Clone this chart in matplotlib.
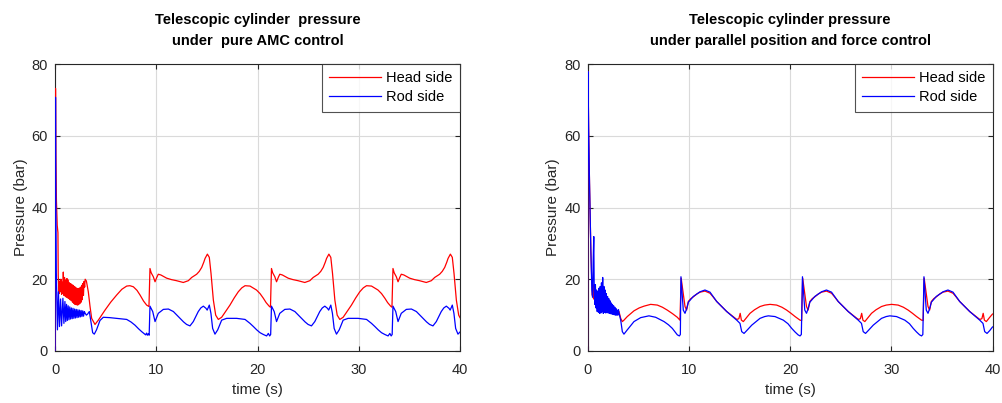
import matplotlib
matplotlib.use("Agg")
import matplotlib.pyplot as plt

plt.rcParams['font.family'] = ['Liberation Sans', 'DejaVu Sans']

# ---------------- Pure AMC control ----------------
amc_head_t = [
    0.00, 0.05, 0.09, 0.14, 0.22, 0.29, 0.32,
    0.35, 0.41, 0.47, 0.53, 0.59, 0.65, 0.71, 0.77, 0.82, 0.88, 0.94, 1.00,
    1.06, 1.12, 1.18, 1.24, 1.31, 1.37, 1.43, 1.49, 1.55, 1.61, 1.67, 1.73,
    1.79, 1.85, 1.91, 1.97, 2.03, 2.09, 2.15, 2.21, 2.27, 2.33, 2.39, 2.45,
    2.51, 2.57, 2.63, 2.69, 2.75, 2.81, 2.87, 2.93, 2.98,
    3.10, 3.29, 3.46, 3.62, 3.95, 4.28, 4.94, 5.50, 6.09, 6.60, 7.08, 7.40,
    7.74, 8.10, 8.40, 8.75, 9.05, 9.28,
    9.38, 9.50, 9.71, 9.88, 10.05, 10.20, 10.45, 11.03, 11.50, 12.00, 12.67,
    13.17, 13.50, 13.99, 14.25, 14.49, 14.70, 14.82, 15.05, 15.24, 15.41,
    15.64, 15.87, 16.13, 16.46, 16.85, 17.28, 17.70, 18.10, 18.45, 18.77,
    19.26, 19.90, 20.25, 20.58, 20.85, 21.15, 21.28,
    21.38, 21.50, 21.71, 21.88, 22.05, 22.20, 22.45, 23.03, 23.50, 24.00, 24.67,
    25.17, 25.50, 25.99, 26.25, 26.49, 26.70, 26.82, 27.05, 27.24, 27.41,
    27.64, 27.87, 28.13, 28.46, 28.85, 29.28, 29.70, 30.10, 30.45, 30.77,
    31.26, 31.90, 32.25, 32.58, 32.85, 33.15, 33.28,
    33.38, 33.50, 33.71, 33.88, 34.05, 34.20, 34.45, 35.03, 35.50, 36.00, 36.67,
    37.17, 37.50, 37.99, 38.25, 38.49, 38.70, 38.82, 39.05, 39.24, 39.41,
    39.64, 39.87, 40.00,
]
amc_head_p = [
    0.0, 73.2, 55.0, 42.0, 35.0, 33.0, 21.0,
    19.0, 16.0, 19.5, 16.5, 20.0, 15.8, 19.2, 16.0, 22.0, 15.5, 20.5, 15.3,
    19.8, 15.0, 20.2, 14.8, 19.8, 14.6, 19.0, 14.3, 18.8, 14.0, 18.5, 13.6,
    18.3, 13.3, 18.0, 13.0, 17.8, 12.9, 17.5, 12.8, 17.3, 12.9, 17.5, 13.2,
    17.8, 13.6, 18.3, 14.3, 18.8, 15.5, 19.4, 17.8, 20.0,
    19.5, 16.5, 12.4, 9.1, 7.4, 8.6, 11.4, 13.6, 15.6, 17.2, 18.1, 18.2,
    17.9, 16.9, 15.6, 13.9, 12.8, 12.4,
    23.0, 21.8, 20.7, 19.3, 20.5, 21.4, 21.2, 20.3, 19.9, 19.6, 19.1,
    19.6, 20.5, 21.4, 22.2, 23.3, 24.8, 25.8, 27.0, 26.1, 21.6,
    14.2, 10.0, 8.8, 9.4, 11.0, 12.8, 14.8, 16.5, 17.6, 18.2,
    18.1, 17.0, 16.0, 14.7, 13.5, 12.5, 12.2,
    23.0, 21.8, 20.7, 19.3, 20.5, 21.4, 21.2, 20.3, 19.9, 19.6, 19.1,
    19.6, 20.5, 21.4, 22.2, 23.3, 24.8, 25.8, 27.0, 26.1, 21.6,
    14.2, 10.0, 8.8, 9.4, 11.0, 12.8, 14.8, 16.5, 17.6, 18.2,
    18.1, 17.0, 16.0, 14.7, 13.5, 12.5, 12.2,
    23.0, 21.8, 20.7, 19.3, 20.5, 21.4, 21.2, 20.3, 19.9, 19.6, 19.1,
    19.6, 20.5, 21.4, 22.2, 23.3, 24.8, 25.8, 27.0, 26.1, 21.6,
    14.2, 10.0, 9.3,
]

amc_rod_t = [
    0.00, 0.05, 0.09, 0.13, 0.18, 0.24, 0.34, 0.44, 0.55, 0.65, 0.78, 0.88,
    0.98, 1.06, 1.14, 1.22, 1.30, 1.38, 1.46, 1.54, 1.62, 1.70, 1.78, 1.86,
    1.94, 2.02, 2.10, 2.18, 2.26, 2.34, 2.42, 2.50, 2.58, 2.66, 2.74, 2.82,
    2.90, 2.98,
    3.10, 3.22, 3.39, 3.52, 3.72, 3.88, 4.10, 4.44, 4.77, 5.40, 6.09, 7.08,
    7.50, 7.90, 8.25, 8.56, 8.95, 9.05, 9.12, 9.22, 9.30,
    9.38, 9.65, 9.88, 10.20, 10.70, 11.20, 11.69, 12.00, 12.35, 12.70, 13.00,
    13.33, 13.66, 13.90, 14.15, 14.40, 14.65, 14.91, 15.03, 15.24, 15.40,
    15.57, 15.80, 16.07, 16.46, 16.95, 17.94, 18.77, 19.26, 19.60, 19.92,
    20.25, 20.58, 20.90, 21.07, 21.20, 21.30,
    21.38, 21.65, 21.88, 22.20, 22.70, 23.20, 23.69, 24.00, 24.35, 24.70, 25.00,
    25.33, 25.66, 25.90, 26.15, 26.40, 26.65, 26.91, 27.03, 27.24, 27.40,
    27.57, 27.80, 28.07, 28.46, 28.95, 29.94, 30.77, 31.26, 31.60, 31.92,
    32.25, 32.58, 32.90, 33.07, 33.20, 33.30,
    33.38, 33.65, 33.88, 34.20, 34.70, 35.20, 35.69, 36.00, 36.35, 36.70, 37.00,
    37.33, 37.66, 37.90, 38.15, 38.40, 38.65, 38.91, 39.03, 39.24, 39.40,
    39.57, 39.80, 40.00,
]
amc_rod_p = [
    0.0, 70.7, 40.0, 22.0, 14.0, 5.9, 16.5, 6.8, 14.5, 7.0, 14.7, 7.7,
    13.8, 8.2, 13.0, 8.5, 12.6, 8.7, 12.3, 8.9, 12.0, 9.0, 11.9, 9.1,
    11.7, 9.2, 11.6, 9.3, 11.5, 9.4, 11.4, 9.5, 11.3, 9.6, 11.2, 9.7,
    11.0, 10.5,
    10.0, 10.3, 11.0, 8.6, 5.1, 4.7, 5.9, 8.5, 9.4, 9.3, 9.1, 8.8,
    8.1, 7.2, 6.2, 5.4, 4.5, 5.0, 4.4, 4.8, 4.4,
    12.5, 11.0, 8.2, 10.5, 11.6, 11.7, 11.0, 10.1, 9.1, 8.1, 7.4,
    7.0, 8.2, 9.6, 11.0, 12.0, 12.5, 11.9, 11.4, 12.8, 10.5,
    6.3, 4.7, 5.9, 8.6, 9.1, 9.1, 8.8, 7.7, 6.8, 5.9,
    5.1, 4.6, 4.2, 4.9, 4.2, 4.6,
    12.5, 11.0, 8.2, 10.5, 11.6, 11.7, 11.0, 10.1, 9.1, 8.1, 7.4,
    7.0, 8.2, 9.6, 11.0, 12.0, 12.5, 11.9, 11.4, 12.8, 10.5,
    6.3, 4.7, 5.9, 8.6, 9.1, 9.1, 8.8, 7.7, 6.8, 5.9,
    5.1, 4.6, 4.2, 4.9, 4.2, 4.6,
    12.5, 11.0, 8.2, 10.5, 11.6, 11.7, 11.0, 10.1, 9.1, 8.1, 7.4,
    7.0, 8.2, 9.6, 11.0, 12.0, 12.5, 11.9, 11.4, 12.8, 10.5,
    6.3, 4.7, 5.3,
]

# ---------------- Parallel position and force control ----------------
par_head_t = [
    0.00, 0.05, 0.11, 0.20, 0.33, 0.43,
    0.48, 0.54, 0.60, 0.66, 0.72, 0.78, 0.84, 0.90, 0.96, 1.02, 1.08, 1.14,
    1.20, 1.26, 1.32, 1.38, 1.44, 1.50, 1.56, 1.62, 1.68, 1.74, 1.80, 1.86,
    1.92, 1.98, 2.04, 2.10, 2.16, 2.22, 2.28, 2.34, 2.40, 2.46, 2.52, 2.58,
    2.64, 2.70, 2.76, 2.82, 2.88, 2.94, 3.00,
    3.11, 3.28, 3.44, 3.60, 3.93, 4.59, 5.10, 5.58, 6.24, 6.90, 7.40, 7.88,
    8.40, 8.87, 9.13,
    9.25, 9.45, 9.63, 9.79, 9.96, 10.20, 10.45, 10.80, 11.11, 11.60, 12.10,
    12.40, 12.76, 13.25, 13.75, 14.25, 14.74, 14.95, 15.08, 15.20, 15.39,
    15.70, 16.05, 16.50, 17.04, 17.50, 18.03, 18.68, 19.20, 19.67, 20.10,
    20.50, 20.99, 21.15,
    21.25, 21.45, 21.63, 21.79, 21.96, 22.20, 22.45, 22.80, 23.11, 23.60, 24.10,
    24.40, 24.76, 25.25, 25.75, 26.25, 26.74, 26.95, 27.08, 27.20, 27.39,
    27.70, 28.05, 28.50, 29.04, 29.50, 30.03, 30.68, 31.20, 31.67, 32.10,
    32.50, 32.99, 33.15,
    33.25, 33.45, 33.63, 33.79, 33.96, 34.20, 34.45, 34.80, 35.11, 35.60, 36.10,
    36.40, 36.76, 37.25, 37.75, 38.25, 38.74, 38.95, 39.08, 39.20, 39.39,
    39.70, 40.00,
]
par_head_p = [
    0.0, 77.9, 62.0, 46.8, 28.2, 19.0,
    15.5, 18.5, 14.5, 17.5, 14.0, 16.5, 13.5, 15.8, 13.0, 15.5, 12.8, 15.0,
    12.5, 14.6, 12.2, 14.2, 12.0, 13.8, 11.8, 13.5, 11.5, 13.2, 11.3, 12.9,
    11.1, 12.6, 11.0, 12.3, 10.8, 12.0, 10.7, 11.8, 10.6, 11.6, 10.5, 11.4,
    10.4, 11.2, 10.3, 11.0, 10.2, 10.8, 10.1,
    11.0, 9.1, 8.2, 8.6, 9.6, 11.2, 12.0, 12.5, 13.0, 12.8, 12.2, 11.4,
    10.4, 9.4, 8.6,
    20.3, 16.1, 12.4, 11.4, 13.8, 14.6, 15.1, 15.9, 16.4, 16.7, 16.1,
    15.1, 13.8, 12.4, 11.0, 9.9, 8.8, 9.0, 10.5, 8.6, 8.2,
    9.3, 10.5, 11.5, 12.4, 12.8, 13.0, 12.8, 12.2, 11.4, 10.5,
    9.6, 8.6, 8.5,
    20.3, 16.1, 12.4, 11.4, 13.8, 14.6, 15.1, 15.9, 16.4, 16.7, 16.1,
    15.1, 13.8, 12.4, 11.0, 9.9, 8.8, 9.0, 10.5, 8.6, 8.2,
    9.3, 10.5, 11.5, 12.4, 12.8, 13.0, 12.8, 12.2, 11.4, 10.5,
    9.6, 8.6, 8.5,
    20.3, 16.1, 12.4, 11.4, 13.8, 14.6, 15.1, 15.9, 16.4, 16.7, 16.1,
    15.1, 13.8, 12.4, 11.0, 9.9, 8.8, 9.0, 10.5, 8.6, 8.2,
    9.3, 10.3,
]

par_rod_t = [
    0.00, 0.05, 0.11, 0.20, 0.33, 0.43,
    0.50, 0.56, 0.62, 0.66, 0.72, 0.78, 0.84, 0.90, 0.96, 1.02, 1.08, 1.14,
    1.20, 1.26, 1.32, 1.38, 1.44, 1.50, 1.56, 1.62, 1.68, 1.74, 1.80, 1.86,
    1.92, 1.98, 2.04, 2.10, 2.16, 2.22, 2.28, 2.34, 2.40, 2.46, 2.52, 2.58,
    2.64, 2.70, 2.76, 2.82, 2.88, 2.94, 3.00, 3.06,
    3.11, 3.28, 3.44, 3.60, 3.93, 4.59, 5.25, 6.07, 6.73, 7.56, 8.00, 8.38,
    8.87, 9.07, 9.17,
    9.23, 9.30, 9.46, 9.63, 9.80, 9.96, 10.45, 11.11, 11.60, 12.10, 12.76,
    13.75, 14.74, 15.06, 15.23, 15.46, 15.73, 16.22, 17.04, 17.50, 17.86,
    18.52, 19.34, 19.80, 20.17, 20.50, 20.80, 20.99, 21.12,
    21.23, 21.30, 21.46, 21.63, 21.80, 21.96, 22.45, 23.11, 23.60, 24.10, 24.76,
    25.75, 26.74, 27.06, 27.23, 27.46, 27.73, 28.22, 29.04, 29.50, 29.86,
    30.52, 31.34, 31.80, 32.17, 32.50, 32.80, 32.99, 33.12,
    33.23, 33.30, 33.46, 33.63, 33.80, 33.96, 34.45, 35.11, 35.60, 36.10, 36.76,
    37.75, 38.74, 39.06, 39.23, 39.46, 39.73, 40.00,
]
par_rod_p = [
    0.0, 77.9, 62.0, 46.8, 28.2, 17.0,
    15.0, 25.0, 31.9, 18.0, 13.0, 18.5, 12.0, 17.0, 11.0, 16.5, 10.8, 17.5,
    10.5, 18.0, 10.6, 19.0, 11.0, 20.5, 10.5, 18.0, 10.8, 17.0, 10.6, 16.0,
    10.7, 15.2, 10.6, 14.6, 10.5, 14.0, 10.4, 13.4, 10.3, 13.0, 10.2, 12.6,
    10.1, 12.2, 10.0, 11.8, 10.0, 11.4, 10.0, 11.5,
    10.6, 8.6, 5.4, 4.7, 5.9, 8.2, 9.3, 9.8, 9.4, 8.2, 7.3, 6.3,
    4.5, 4.2, 4.6,
    20.7, 17.9, 11.4, 10.5, 11.9, 13.6, 15.2, 16.5, 17.0, 16.4, 13.8,
    11.0, 8.6, 7.7, 5.4, 4.9, 5.7, 7.2, 9.1, 9.6, 9.8,
    9.6, 8.6, 7.6, 6.3, 5.3, 4.5, 4.2, 4.6,
    20.7, 17.9, 11.4, 10.5, 11.9, 13.6, 15.2, 16.5, 17.0, 16.4, 13.8,
    11.0, 8.6, 7.7, 5.4, 4.9, 5.7, 7.2, 9.1, 9.6, 9.8,
    9.6, 8.6, 7.6, 6.3, 5.3, 4.5, 4.2, 4.6,
    20.7, 17.9, 11.4, 10.5, 11.9, 13.6, 15.2, 16.5, 17.0, 16.4, 13.8,
    11.0, 8.6, 7.7, 5.4, 4.9, 5.7, 6.7,
]

titles = [
    "Telescopic cylinder  pressure\nunder  pure AMC control",
    "Telescopic cylinder pressure\nunder parallel position and force control",
]
series_labels = ["Head side", "Rod side"]
x_ticks = [0, 10, 20, 30, 40]
y_ticks = [0, 20, 40, 60, 80]

AX_COLOR = "#262626"
W, H = 1002, 403
fig = plt.figure(figsize=(W / 100, H / 100), dpi=100)

panels = [
    (amc_head_t, amc_head_p, amc_rod_t, amc_rod_p, 55),
    (par_head_t, par_head_p, par_rod_t, par_rod_p, 587.5),
]

for i, (ht, hp, rt, rp, left_px) in enumerate(panels):
    ax = fig.add_axes([left_px / W, (H - 351) / H, 405 / W, 287 / H])
    ax.plot(ht, hp, color="#ff0000", lw=0.9, label=series_labels[0], zorder=3)
    ax.plot(rt, rp, color="#0000ff", lw=0.9, label=series_labels[1], zorder=3)
    ax.set_xlim(0, 40)
    ax.set_ylim(0, 80)
    ax.set_xticks(x_ticks)
    ax.set_yticks(y_ticks)
    ax.grid(True, color="#dadada", lw=0.8)
    ax.set_axisbelow(True)
    for s in ax.spines.values():
        s.set_color(AX_COLOR)
        s.set_linewidth(0.8)
    ax.tick_params(direction="in", top=True, right=True, length=3.5,
                   width=0.8, color=AX_COLOR, labelcolor=AX_COLOR,
                   labelsize=10.5, pad=5)
    ax.tick_params(axis="x", pad=9)
    ax.set_title(titles[i], fontsize=10.5, fontweight="bold", color="black",
                 linespacing=1.7, pad=13.5)
    ax.set_xlabel("time (s)", fontsize=11, color=AX_COLOR, labelpad=4)
    ax.set_ylabel("Pressure (bar)", fontsize=11, color=AX_COLOR, labelpad=3)
    leg = ax.legend(loc="upper right", fontsize=10.5, frameon=True,
                    fancybox=False, borderaxespad=0, handlelength=3.55,
                    handletextpad=0.35, labelspacing=0.35, borderpad=0.5)
    leg.set_zorder(5)
    leg.get_frame().set_edgecolor(AX_COLOR)
    leg.get_frame().set_linewidth(0.8)
    for txt in leg.get_texts():
        txt.set_color("black")

fig.savefig("out.png", dpi=100)
